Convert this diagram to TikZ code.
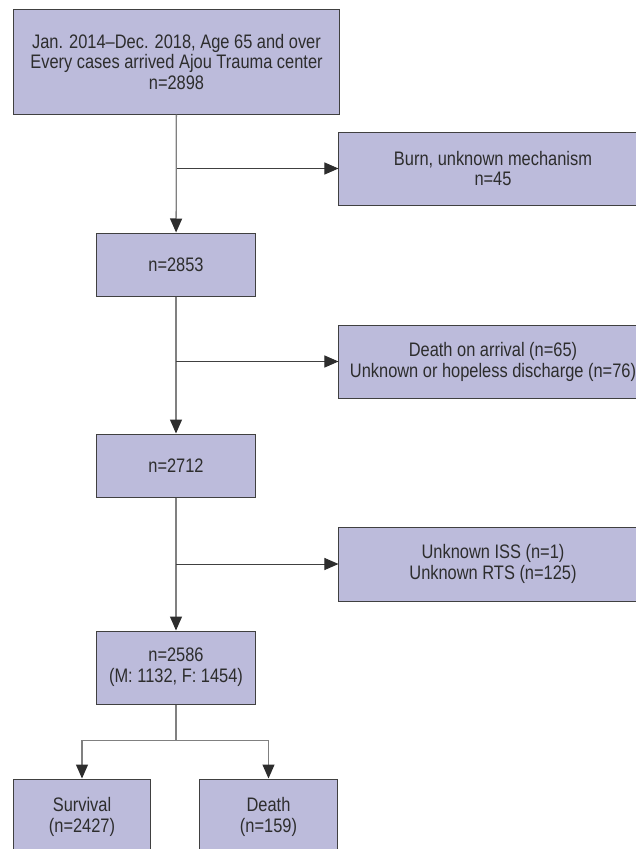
\documentclass[tikz,border=0pt]{standalone}
\usepackage{fontspec}
\setmainfont{Liberation Sans}[FakeStretch=0.84]
\usepackage{tikz}
\usetikzlibrary{positioning,arrows.meta}

\definecolor{boxfill}{RGB}{188,187,219}
\definecolor{boxline}{RGB}{64,64,64}
\definecolor{boxtext}{RGB}{45,45,45}
\definecolor{linkgray}{RGB}{128,128,128}

\tikzset{
  flowbox/.style={draw=boxline, fill=boxfill, text=boxtext, line width=0.7pt, align=center,
    inner sep=0pt, font=\fontsize{13.9}{14.9}\selectfont},
  link/.style={draw=linkgray, line width=0.9pt},
  linkarrow/.style={link, -{Triangle[length=0.35cm, width=0.3cm, color=boxtext]}},
}

\begin{document}
\begin{tikzpicture}[x=0.025cm, y=-0.025cm]
    \useasboundingbox (0,0) rectangle (636,849);
    \clip (0,0) rectangle (636,849);

    \node[flowbox, minimum width=8.125cm, minimum height=2.6cm] (start) at (176.5,62)
        {Jan. 2014--Dec. 2018, Age 65 and over\\Every cases arrived Ajou Trauma center\\n=2898};
    \node[flowbox, minimum width=7.7cm, minimum height=1.825cm] (burn) at (493,168.5)
        {Burn, unknown mechanism\\n=45};
    \node[flowbox, minimum width=3.95cm, minimum height=1.575cm] (n2853) at (176,264.5) {n=2853};
    \node[flowbox, minimum width=7.7cm, minimum height=1.825cm] (doa) at (493,361.5)
        {Death on arrival (n=65)\\Unknown or hopeless discharge (n=76)};
    \node[flowbox, minimum width=3.95cm, minimum height=1.575cm] (n2712) at (176,465.5) {n=2712};
    \node[flowbox, minimum width=7.7cm, minimum height=1.85cm] (unknown) at (493,564)
        {Unknown ISS (n=1)\\Unknown RTS (n=125)};
    \node[flowbox, minimum width=3.95cm, minimum height=1.825cm] (n2586) at (176,667.5)
        {n=2586\\(M: 1132, F: 1454)};
    \node[flowbox, minimum width=3.4cm, minimum height=1.875cm] (survival) at (82,816.5)
        {Survival\\(n=2427)};
    \node[flowbox, minimum width=3.425cm, minimum height=1.875cm] (death) at (268.5,816.5)
        {Death\\(n=159)};

    \draw[linkarrow] (start) -- (n2853);
    \draw[linkarrow, draw=boxline, line width=0.7pt] (start.south |- burn.west) -- (burn.west);
    \draw[linkarrow] (n2853) -- (n2712);
    \draw[linkarrow, draw=boxline, line width=0.7pt] (n2853.south |- doa.west) -- (doa.west);
    \draw[linkarrow] (n2712) -- (n2586);
    \draw[linkarrow, draw=boxline, line width=0.7pt] (n2712.south |- unknown.west) -- (unknown.west);

    \draw[link] (n2586.south) -- ++(0,36) coordinate (split);
    \draw[linkarrow] (split) -| (survival.north);
    \draw[linkarrow] (split) -| (death.north);
\end{tikzpicture}
\end{document}
